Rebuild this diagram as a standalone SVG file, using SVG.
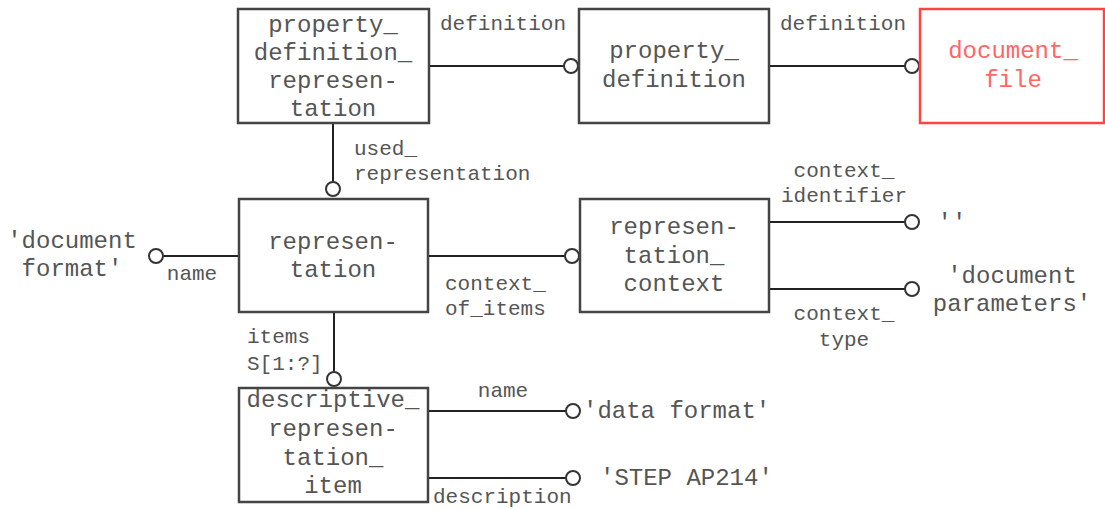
<svg xmlns="http://www.w3.org/2000/svg" width="1105" height="510" viewBox="0 0 1105 510">
<style>
.box{fill:#fff;stroke:#444;stroke-width:2.5}
.red{fill:#fff;stroke:#ff4444;stroke-width:2.5}
.t{font-family:"Liberation Mono","DejaVu Sans Mono",monospace;font-size:24px;fill:#555;text-anchor:middle}
.rt{font-family:"Liberation Mono","DejaVu Sans Mono",monospace;font-size:24px;fill:#ff6666;text-anchor:middle}
.l{font-family:"Liberation Mono","DejaVu Sans Mono",monospace;font-size:21px;fill:#555}
.v{font-family:"Liberation Mono","DejaVu Sans Mono",monospace;font-size:24px;fill:#555}
.c{stroke:#222;stroke-width:2;fill:none}
.o{fill:#fff;stroke:#333;stroke-width:2}
</style>
<rect width="1105" height="510" fill="#fff"/>
<g id="connectors">
<line class="c" x1="429" y1="66" x2="564" y2="66"/><circle class="o" cx="571" cy="66" r="7"/>
<line class="c" x1="769" y1="66" x2="905" y2="66"/><circle class="o" cx="912" cy="66" r="7"/>
<line class="c" x1="333" y1="123" x2="333" y2="182"/><circle class="o" cx="333" cy="189" r="7"/>
<line class="c" x1="163" y1="256" x2="239" y2="256"/><circle class="o" cx="156" cy="256" r="7"/>
<line class="c" x1="428" y1="256" x2="565" y2="256"/><circle class="o" cx="572" cy="256" r="7"/>
<line class="c" x1="769" y1="222" x2="905" y2="222"/><circle class="o" cx="912" cy="222" r="7"/>
<line class="c" x1="769" y1="289" x2="905" y2="289"/><circle class="o" cx="912" cy="289" r="7"/>
<line class="c" x1="334" y1="313" x2="334" y2="372"/><circle class="o" cx="334" cy="379" r="7"/>
<line class="c" x1="428" y1="411" x2="566" y2="411"/><circle class="o" cx="573" cy="411" r="7"/>
<line class="c" x1="428" y1="478" x2="566" y2="478"/><circle class="o" cx="573" cy="478" r="7"/>
<text class="l" x="440" y="30">definition</text>
<text class="l" x="780" y="30">definition</text>
<text class="l" x="354" y="155">used_</text>
<text class="l" x="354" y="180">representation</text>
<text class="l" x="192" y="280" text-anchor="middle">name</text>
<text class="l" x="445" y="290">context_</text>
<text class="l" x="445" y="315">of_items</text>
<text class="l" x="844" y="177" text-anchor="middle">context_</text>
<text class="l" x="844" y="202" text-anchor="middle">identifier</text>
<text class="l" x="844" y="320" text-anchor="middle">context_</text>
<text class="l" x="844" y="346" text-anchor="middle">type</text>
<text class="l" x="247" y="343">items</text>
<text class="l" x="247" y="370">S[1:?]</text>
<text class="l" x="503" y="397" text-anchor="middle">name</text>
<text class="l" x="433" y="503">description</text>
</g>
<g id="values">
<text class="v" x="72" y="248" text-anchor="middle">'document</text>
<text class="v" x="72" y="276" text-anchor="middle">format'</text>
<text class="v" x="952" y="230" text-anchor="middle">''</text>
<text class="v" x="1012" y="283" text-anchor="middle">'document</text>
<text class="v" x="1012" y="311" text-anchor="middle">parameters'</text>
<text class="v" x="583" y="418">'data format'</text>
<text class="v" x="600" y="485">'STEP AP214'</text>
</g>
<g id="property_definition_representation">
<rect class="box" x="238" y="9" width="191" height="114"/>
<text class="t" x="333" y="32">property_</text>
<text class="t" x="333" y="60">definition_</text>
<text class="t" x="333" y="88">represen-</text>
<text class="t" x="333" y="116">tation</text>
</g>
<g id="property_definition">
<rect class="box" x="579" y="9" width="190" height="114"/>
<text class="t" x="674" y="58">property_</text>
<text class="t" x="674" y="87">definition</text>
</g>
<g id="document_file">
<rect class="red" x="920" y="9" width="184" height="114"/>
<text class="rt" x="1013" y="58">document_</text>
<text class="rt" x="1013" y="87">file</text>
</g>
<g id="representation">
<rect class="box" x="239" y="199" width="189" height="113"/>
<text class="t" x="333" y="249">represen-</text>
<text class="t" x="333" y="277">tation</text>
</g>
<g id="representation_context">
<rect class="box" x="580" y="199" width="189" height="113"/>
<text class="t" x="674" y="234">represen-</text>
<text class="t" x="674" y="263">tation_</text>
<text class="t" x="674" y="291">context</text>
</g>
<g id="descriptive_representation_item">
<rect class="box" x="239" y="388" width="189" height="114"/>
<text class="t" x="333" y="407">descriptive_</text>
<text class="t" x="333" y="436">represen-</text>
<text class="t" x="333" y="465">tation_</text>
<text class="t" x="333" y="493">item</text>
</g>
</svg>
